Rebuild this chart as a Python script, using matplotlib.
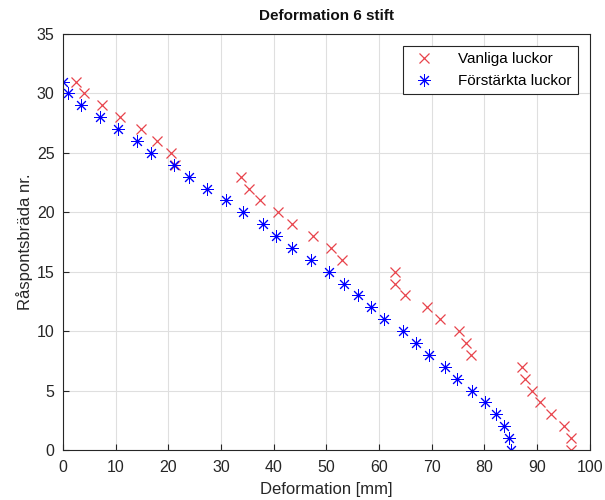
import matplotlib.pyplot as plt

plt.rcParams['font.family'] = ['Liberation Sans', 'DejaVu Sans']

# Råspontsbräda nr. (y) for both series
bradar = list(range(31, -1, -1))

# deformation [mm]
vanliga = [2.5, 4.0, 7.5, 10.9, 14.9, 17.9, 20.5, 21.3, 33.8, 35.4, 37.4, 40.9,
           43.5, 47.5, 50.9, 52.9, 63.1, 63.1, 65.0, 69.0, 71.5, 75.1, 76.5, 77.4,
           87.1, 87.6, 89.1, 90.6, 92.6, 95.0, 96.4, 96.4]
forstarkta = [0.0, 0.9, 3.4, 7.0, 10.5, 14.0, 16.8, 21.0, 24.0, 27.4, 30.9, 34.1,
              38.0, 40.4, 43.4, 47.0, 50.5, 53.4, 56.0, 58.5, 61.0, 64.5, 67.0, 69.5,
              72.6, 74.7, 77.6, 80.1, 82.1, 83.7, 84.6, 85.1]

fig = plt.figure(figsize=(6.05, 5.0), dpi=100)
ax = fig.add_axes([0.104, 0.1, 0.871, 0.832])

ax.plot(vanliga, bradar, 'x', color='#e8434b', markersize=7, markeredgewidth=0.9,
        label='Vanliga luckor')
ax.plot(forstarkta, bradar, linestyle='none', marker=(8, 2, 0), color='#0000ff',
        markersize=9, markeredgewidth=0.7, label='Förstärkta luckor')

ax.set_xlim(0, 100)
ax.set_ylim(0, 35)
ax.set_xticks(range(0, 101, 10))
ax.set_yticks(range(0, 36, 5))
ax.grid(True, color='#dfdfdf', linewidth=0.8)
ax.set_axisbelow(True)
ax.tick_params(direction='in', labelsize=11.5, colors='#262626', length=4)
ax.tick_params(axis='x', pad=7)
ax.tick_params(axis='y', pad=6)
for s in ax.spines.values():
    s.set_color('#262626')
    s.set_linewidth(0.8)

ax.set_title('Deformation 6 stift', fontsize=11, fontweight='bold', color='#111111', pad=10)
ax.set_xlabel('Deformation [mm]', fontsize=12, color='#262626', labelpad=5)
ax.set_ylabel('Råspontsbräda nr.', fontsize=12, color='#262626', labelpad=3)

leg = ax.legend(loc='upper right', fontsize=11, fancybox=False, framealpha=1,
                edgecolor='#262626', borderaxespad=0.8, handletextpad=1.2)
leg.get_frame().set_linewidth(0.8)

fig.savefig('out.png', dpi=100)
